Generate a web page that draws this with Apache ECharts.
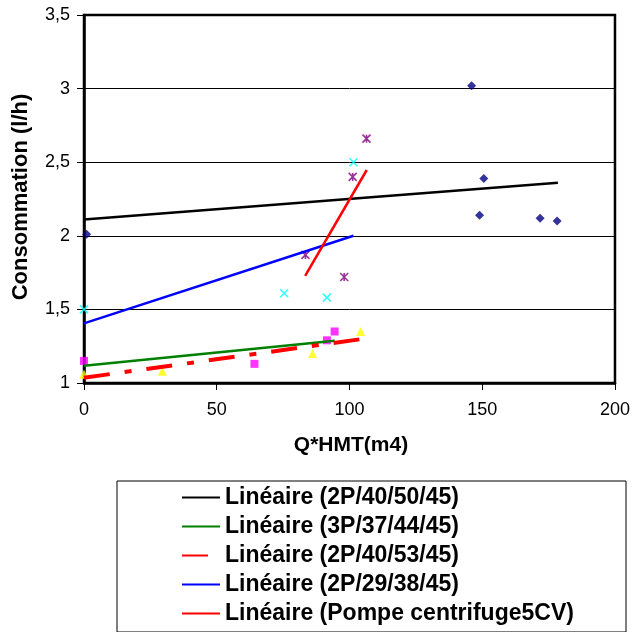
<!DOCTYPE html>
<html>
<head>
<meta charset="utf-8">
<script src="https://cdn.jsdelivr.net/npm/echarts@6/dist/echarts.min.js"></script>
<style>
html,body{margin:0;padding:0;background:#fff;}
#c{width:633px;height:632px;}
</style>
</head>
<body>
<div id="c"></div>
<script>
// ---- data ----
const xTicks = [0, 50, 100, 150, 200];
const yTicks = [1, 1.5, 2, 2.5, 3, 3.5];

// observed points
const pts2P_40_50 = [[1, 2.01], [146, 3.02], [149, 2.14], [150.6, 2.39], [171.8, 2.12], [178.2, 2.10]];
const pts3P_37_44 = [[0, 1.15], [64.2, 1.13], [91.5, 1.29], [94.4, 1.35]];
const pts2P_40_53 = [[0, 1.06], [29.5, 1.08], [86.1, 1.20], [104.2, 1.35]];
const pts2P_29_38 = [[0, 1.50], [75.4, 1.61], [91.5, 1.58], [101.5, 2.50]];
const ptsPompe = [[83.4, 1.87], [98, 1.72], [101.2, 2.40], [106.4, 2.66]];

// linear trend lines (endpoints)
const trend2P_40_50 = [[0, 2.11], [178.5, 2.36]];
const trend3P_37_44 = [[0, 1.117], [94.5, 1.287]];
const trend2P_40_53 = [[0, 1.036], [104, 1.297]];
const trend2P_29_38 = [[0, 1.405], [101.5, 2.0]];
const trendPompe = [[83.3, 1.727], [106.5, 2.447]];

const legendNames = [
  'Linéaire (2P/40/50/45)',
  'Linéaire (3P/37/44/45)',
  'Linéaire (2P/40/53/45)',
  'Linéaire (2P/29/38/45)',
  'Linéaire (Pompe centrifuge5CV)'
];

const FONT = 'Arial, "Liberation Sans", sans-serif';
const chart = echarts.init(document.getElementById('c'), null, {renderer: 'canvas'});

function trend(name, data, color, width, dash) {
  return {
    name: name, type: 'line', data: data, symbol: 'none', z: 5,
    lineStyle: {color: color, width: width, type: dash || 'solid', cap: 'butt'},
    itemStyle: {color: color},
    animation: false, silent: true
  };
}
function scatter(data, symbol, size, color, stroke) {
  return {
    type: 'scatter', data: data, symbol: symbol, symbolSize: size, z: 3,
    animation: false, silent: true,
    itemStyle: stroke ? {color: 'rgba(0,0,0,0)', borderColor: color, borderWidth: 1.6} : {color: color}
  };
}

const option = {
  backgroundColor: '#fff',
  animation: false,
  grid: {left: 84, right: 16, top: 15, bottom: 249, show: true, borderColor: '#000', borderWidth: 2.5, containLabel: false},
  xAxis: {
    type: 'value', min: xTicks[0], max: xTicks[xTicks.length - 1], interval: 50,
    axisLine: {show: true, lineStyle: {color: '#000', width: 2.5}},
    axisTick: {show: true, inside: false, length: 7, lineStyle: {color: '#000', width: 1}},
    splitLine: {show: false},
    axisLabel: {fontFamily: FONT, fontSize: 18, color: '#000', margin: 18}
  },
  yAxis: {
    type: 'value', min: yTicks[0], max: yTicks[yTicks.length - 1], interval: 0.5,
    axisLine: {show: true, lineStyle: {color: '#000', width: 2.5}},
    axisTick: {show: true, inside: false, length: 7, lineStyle: {color: '#000', width: 1}},
    splitLine: {show: true, lineStyle: {color: '#000', width: 1}},
    axisLabel: {fontFamily: FONT, fontSize: 18, color: '#000', margin: 14,
      formatter: v => String(v).replace('.', ',')}
  },
  legend: {
    data: legendNames, orient: 'vertical', left: 181, top: 486, height: 170, width: 440,
    padding: 0,
    itemWidth: 38, itemHeight: 14, itemGap: 6,
    itemStyle: {opacity: 0},
    textStyle: {fontFamily: FONT, fontSize: 23, fontWeight: 'bold', color: '#000', lineHeight: 23},
    selectedMode: false
  },
  graphic: [
    {type: 'rect', shape: {x: 117, y: 481, width: 509, height: 151}, style: {fill: 'none', stroke: '#000', lineWidth: 1}, silent: true},
    {type: 'text', x: 21, y: 197, rotation: Math.PI / 2,
      style: {text: 'Consommation (l/h)', font: 'bold 22px ' + FONT, fill: '#000', align: 'center', verticalAlign: 'middle'}},
    {type: 'text', x: 351, y: 445,
      style: {text: 'Q*HMT(m4)', font: 'bold 21px ' + FONT, fill: '#000', align: 'center', verticalAlign: 'middle'}}
  ],
  series: [
    scatter(pts2P_40_50, 'diamond', 9, '#000080'),
    scatter(pts3P_37_44, 'rect', 8, '#FF00FF'),
    scatter(pts2P_40_53, 'triangle', 9, '#FFFF00'),
    scatter(pts2P_29_38, 'path://M0,0L10,10M10,0L0,10', 8, '#00FFFF', true),
    scatter(ptsPompe, 'path://M0,0L10,10M10,0L0,10M5,0L5,10', 8, '#800080', true),
    trend(legendNames[0], trend2P_40_50, '#000000', 2.5),
    trend(legendNames[1], trend3P_37_44, '#008000', 2.5),
    trend(legendNames[2], trend2P_40_53, '#FF0000', 4, [26, 15, 7, 15]),
    trend(legendNames[3], trend2P_29_38, '#0000FF', 2.5),
    trend(legendNames[4], trendPompe, '#FF0000', 2.5)
  ]
};
chart.setOption(option);
</script>
</body>
</html>
